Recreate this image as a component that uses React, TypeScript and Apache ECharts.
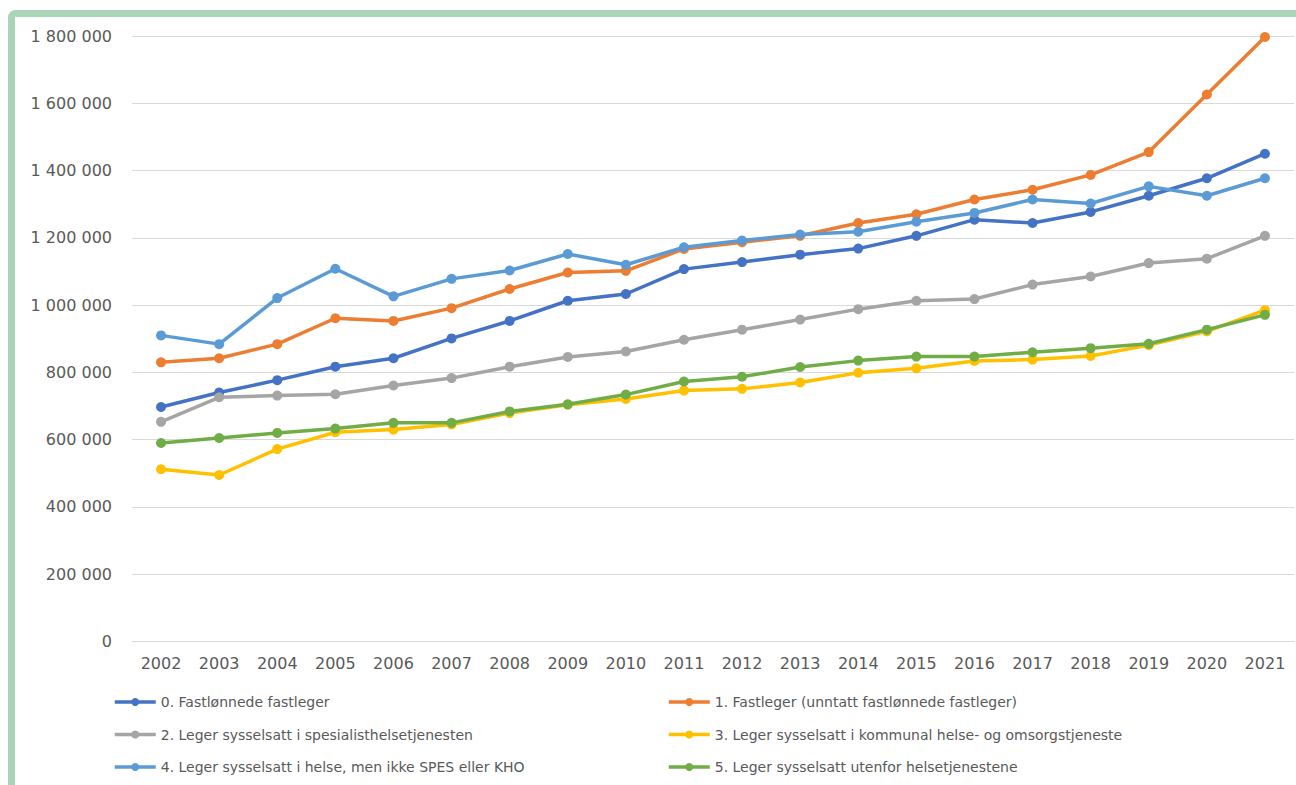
import React, { useEffect, useRef } from "react";
import * as echarts from "echarts";

const years = ["2002","2003","2004","2005","2006","2007","2008","2009","2010","2011","2012","2013","2014","2015","2016","2017","2018","2019","2020","2021"];

const seriesNames = [
  "0. Fastlønnede fastleger",
  "1. Fastleger (unntatt fastlønnede fastleger)",
  "2. Leger sysselsatt i spesialisthelsetjenesten",
  "3. Leger sysselsatt i kommunal helse- og omsorgstjeneste",
  "4. Leger sysselsatt i helse, men ikke SPES eller KHO",
  "5. Leger sysselsatt utenfor helsetjenestene",
];

const fastlonnede = [697000, 740000, 777000, 817000, 842000, 901000, 953000, 1013000, 1033000, 1107000, 1128000, 1150000, 1168000, 1206000, 1254000, 1244000, 1277000, 1325000, 1377000, 1450000];
const fastleger = [830000, 842000, 884000, 961000, 953000, 991000, 1048000, 1097000, 1102000, 1167000, 1187000, 1206000, 1244000, 1270000, 1314000, 1343000, 1387000, 1455000, 1626000, 1797000];
const spesialist = [653000, 726000, 731000, 735000, 761000, 783000, 817000, 846000, 862000, 897000, 927000, 957000, 988000, 1013000, 1018000, 1061000, 1085000, 1125000, 1138000, 1206000];
const kommunal = [512000, 495000, 572000, 622000, 630000, 645000, 679000, 704000, 721000, 746000, 751000, 770000, 799000, 812000, 834000, 838000, 849000, 881000, 922000, 985000];
const helseAnnet = [910000, 884000, 1021000, 1108000, 1026000, 1078000, 1103000, 1152000, 1120000, 1172000, 1192000, 1210000, 1218000, 1248000, 1274000, 1314000, 1302000, 1353000, 1325000, 1377000];
const utenfor = [590000, 605000, 620000, 633000, 650000, 650000, 684000, 705000, 734000, 773000, 787000, 816000, 835000, 847000, 847000, 860000, 872000, 885000, 927000, 971000];

const allValues = [fastlonnede, fastleger, spesialist, kommunal, helseAnnet, utenfor];
const colors = ["#4472c4", "#ed7d31", "#a5a5a5", "#ffc000", "#5b9bd5", "#70ad47"];

const fmt = (v: number) => String(v).replace(/\B(?=(\d{3})+(?!\d))/g, " ");

export default function App() {
  const ref = useRef<HTMLDivElement>(null);
  useEffect(() => {
    if (!ref.current) return;
    const chart = echarts.init(ref.current, undefined, { renderer: "svg" });
    const legendText = { color: "#595959", fontSize: 14, fontFamily: "DejaVu Sans", lineHeight: 14 };
    const legendCommon = {
      orient: "vertical",
      top: 695,
      padding: 0,
      itemWidth: 41,
      itemHeight: 10,
      itemGap: 18.5,
      textStyle: legendText,
      lineStyle: { width: 3.5 },
    };
    chart.setOption({
      animation: false,
      backgroundColor: "#ffffff",
      graphic: [
        {
          type: "rect",
          shape: { x: 11.5, y: 13.5, width: 1400, height: 900, r: 4 },
          style: { fill: "none", stroke: "#a9d4b8", lineWidth: 7 },
          silent: true,
        },
      ],
      grid: { left: 132, right: 2, top: 36, bottom: 143.5, containLabel: false },
      legend: [
        { ...legendCommon, left: 113, data: [seriesNames[0], seriesNames[2], seriesNames[4]] },
        { ...legendCommon, left: 667, data: [seriesNames[1], seriesNames[3], seriesNames[5]] },
      ],
      xAxis: {
        type: "category",
        data: years,
        boundaryGap: true,
        axisLine: { show: true, lineStyle: { color: "#d9d9d9", width: 1 } },
        axisTick: { show: false },
        axisLabel: { color: "#595959", fontSize: 16, fontFamily: "DejaVu Sans", margin: 14 },
      },
      yAxis: {
        type: "value",
        min: 0,
        max: 1800000,
        interval: 200000,
        axisLine: { show: false },
        axisTick: { show: false },
        splitLine: { lineStyle: { color: "#d9d9d9", width: 1 } },
        axisLabel: {
          color: "#595959",
          fontSize: 16,
          fontFamily: "DejaVu Sans",
          margin: 20,
          formatter: (v: number) => fmt(v),
        },
      },
      series: allValues.map((vals, i) => ({
        name: seriesNames[i],
        type: "line",
        data: vals,
        symbol: "circle",
        symbolSize: 10,
        lineStyle: { color: colors[i], width: 3.5 },
        itemStyle: { color: colors[i] },
        z: 2 + i,
      })),
    });
    return () => chart.dispose();
  }, []);
  return (
    <div
      ref={ref}
      style={{ position: "fixed", left: 0, top: 0, width: 1296, height: 785 }}
    />
  );
}
